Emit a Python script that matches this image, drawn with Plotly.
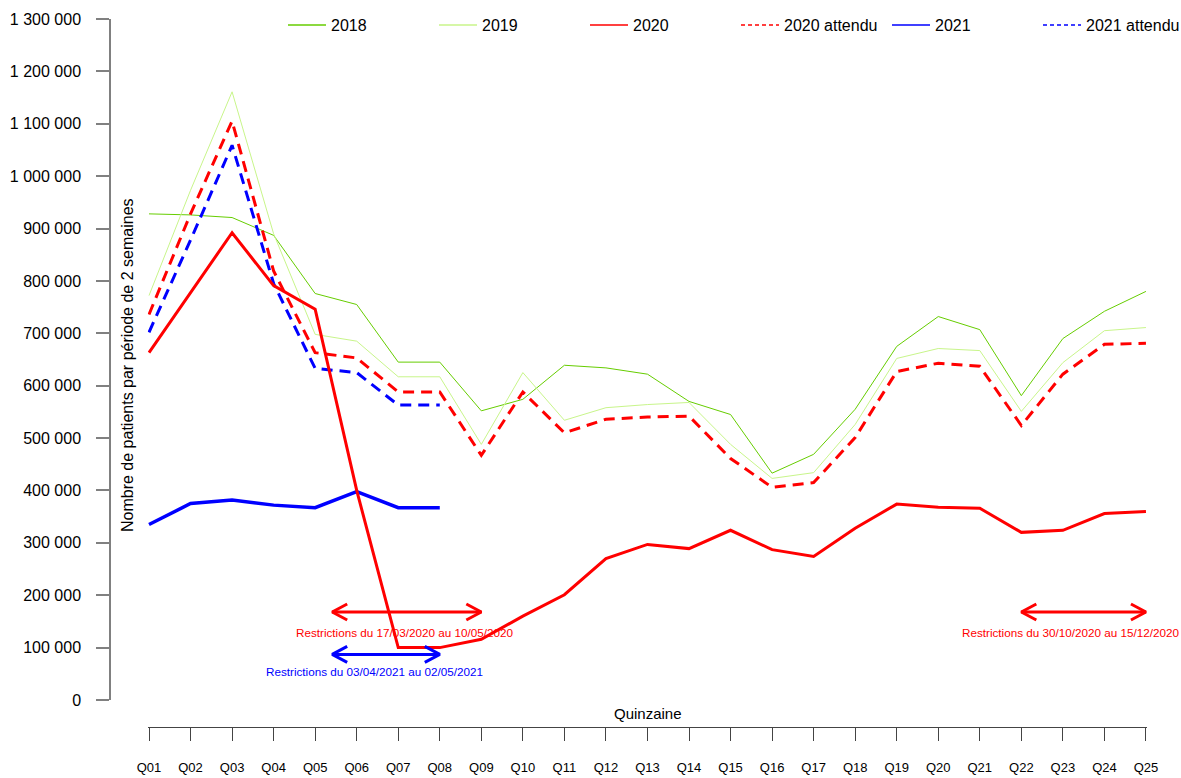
import plotly.graph_objects as go

# ---------------- data ----------------
quinzaines = [f"Q{i:02d}" for i in range(1, 26)]

v2018 = [928000, 926000, 921000, 887000, 776000, 755000, 645000, 645000, 552000, 574000,
         639000, 634000, 622000, 570000, 545000, 433000, 469000, 555000, 675000, 732000,
         707000, 581000, 690000, 742000, 780000]
v2019 = [772000, 973000, 1161000, 890000, 698000, 685000, 617000, 617000, 488000, 625000,
         534000, 558000, 564000, 568000, 488000, 423000, 434000, 526000, 652000, 671000,
         667000, 551000, 644000, 705000, 711000]
v2020_attendu = [736000, 928000, 1105000, 819000, 663000, 653000, 588000, 588000, 467000, 588000,
                 510000, 536000, 540000, 542000, 461000, 406000, 415000, 501000, 627000, 643000,
                 637000, 524000, 622000, 679000, 681000]
v2020 = [663000, 777000, 892000, 791000, 746000, 400000, 100000, 100000, 116000, 160000,
         201000, 270000, 297000, 289000, 324000, 287000, 274000, 328000, 374000, 368000,
         366000, 320000, 324000, 356000, 360000]
v2021 = [335000, 375000, 382000, 372000, 367000, 398000, 367000, 367000]
v2021_attendu = [702000, 878000, 1059000, 795000, 633000, 625000, 563000, 563000]

y_ticks = [0, 100000, 200000, 300000, 400000, 500000, 600000, 700000, 800000,
           900000, 1000000, 1100000, 1200000, 1300000]

# restriction periods: start / end (quinzaine index), arrow level, label, label position
restr_start = [5.41, 22.0, 5.41]
restr_end = [9.0, 25.0, 8.0]
restr_level = [168000, 168000, 87000]
restr_label = ["Restrictions du 17/03/2020 au 10/05/2020",
               "Restrictions du 30/10/2020 au 15/12/2020",
               "Restrictions du 03/04/2021 au 02/05/2021"]
restr_label_x = [7.17, 23.2, 6.42]
restr_label_y = [129000, 129000, 55000]
restr_color = ["#FF0000", "#FF0000", "#0000FF"]

# ---------------- layout geometry ----------------
W, H = 1181, 778
ML, MR, MT, MB = 110, 21, 19, 51
PW, PH = W - ML - MR, H - MT - MB
X_RANGE = [0.97, 25.03]
X_PIX = [147.75, 1147.2]
x_domain = [(X_PIX[0] - ML) / PW, (X_PIX[1] - ML) / PW]
y_domain = [(H - MB - 700) / PH, 1.0]
Y_RANGE = [0, 1300000]

px_per_x = (X_PIX[1] - X_PIX[0]) / (X_RANGE[1] - X_RANGE[0])
px_per_y = (PH * (y_domain[1] - y_domain[0])) / (Y_RANGE[1] - Y_RANGE[0])

xs = list(range(1, 26))
FONT = "Liberation Sans, Arial, sans-serif"

C2018 = "#66CD00"
C2019 = "#C8F58A"
CRED = "#FF0000"
CBLUE = "#0000FF"
DASH = "11px,7px"

fig = go.Figure()

def add_line(y, color, width, dash=None):
    fig.add_trace(go.Scatter(x=xs[:len(y)], y=y, mode="lines", showlegend=False,
                             line=dict(color=color, width=width, dash=dash),
                             hoverinfo="skip"))

add_line(v2018, C2018, 1)
add_line(v2019, C2019, 1)
add_line(v2020_attendu, CRED, 3, DASH)
add_line(v2021_attendu, CBLUE, 3, DASH)
add_line(v2021, CBLUE, 3.5)
add_line(v2020, CRED, 3)

# arrows (double-headed, open chevrons)
head_dx = 15 / px_per_x
head_dy = 8 / px_per_y
for s, e, lv, col in zip(restr_start, restr_end, restr_level, restr_color):
    ax = [s, e, None,
          s + head_dx, s, s + head_dx, None,
          e - head_dx, e, e - head_dx]
    ay = [lv, lv, None,
          lv + head_dy, lv, lv - head_dy, None,
          lv + head_dy, lv, lv - head_dy]
    fig.add_trace(go.Scatter(x=ax, y=ay, mode="lines", showlegend=False, hoverinfo="skip",
                             line=dict(color=col, width=3)))

# legend-only traces
leg = [("2018", C2018, None), ("2019", C2019, None), ("2020", CRED, None),
       ("2020 attendu", CRED, "4px,3px"), ("2021", CBLUE, None), ("2021 attendu", CBLUE, "4px,3px")]
for name, col, d in leg:
    fig.add_trace(go.Scatter(x=[None], y=[None], mode="lines", name=name,
                             line=dict(color=col, width=1.5, dash=d)))

annotations = []
for lab, lx, ly, col in zip(restr_label, restr_label_x, restr_label_y, restr_color):
    annotations.append(dict(x=lx, y=ly, xref="x", yref="y", text=lab, showarrow=False,
                            font=dict(family=FONT, size=11.7, color=col),
                            xanchor="center", yanchor="middle"))
annotations.append(dict(x=(648 - ML) / PW, y=(H - MB - 713) / PH, xref="paper", yref="paper",
                        text="Quinzaine", showarrow=False,
                        font=dict(family=FONT, size=15, color="black"),
                        xanchor="center", yanchor="middle"))
annotations.append(dict(x=(127 - ML) / PW, y=(H - MB - 365) / PH, xref="paper", yref="paper",
                        text="Nombre de patients par période de 2 semaines", textangle=-90,
                        showarrow=False, font=dict(family=FONT, size=16, color="black"),
                        xanchor="center", yanchor="middle"))

fig.update_layout(
    width=W, height=H, autosize=False,
    margin=dict(l=ML, r=MR, t=MT, b=MB, pad=0, autoexpand=False),
    paper_bgcolor="white", plot_bgcolor="white",
    separators=". ",
    font=dict(family=FONT, color="black"),
    showlegend=True,
    legend=dict(orientation="h", x=(283 - ML) / PW, xanchor="left",
                y=1 - 6 / PH, yanchor="middle",
                itemwidth=38, entrywidth=98, entrywidthmode="pixels",
                font=dict(family=FONT, size=16, color="black"),
                bgcolor="rgba(0,0,0,0)", borderwidth=0),
    xaxis=dict(range=X_RANGE, domain=x_domain, anchor="free", position=0,
               tickmode="array", tickvals=xs, ticktext=quinzaines,
               ticks="outside", ticklen=13, tickwidth=1, tickcolor="#444444",
               showline=True, linecolor="#444444", linewidth=1,
               showgrid=False, zeroline=False, ticklabelstandoff=15,
               tickfont=dict(family=FONT, size=13, color="black")),
    yaxis=dict(range=Y_RANGE, domain=y_domain, anchor="free", position=0,
               tickmode="array", tickvals=y_ticks, tickformat=",d",
               ticks="outside", ticklen=13, tickwidth=1.5, tickcolor="#808080",
               showline=True, linecolor="#808080", linewidth=1.5,
               showgrid=False, zeroline=False, ticklabelstandoff=12,
               tickfont=dict(family=FONT, size=16, color="black")),
    annotations=annotations,
)

fig.write_html("out.html", config={"displayModeBar": False},
               post_script="document.body.style.margin='0';")
